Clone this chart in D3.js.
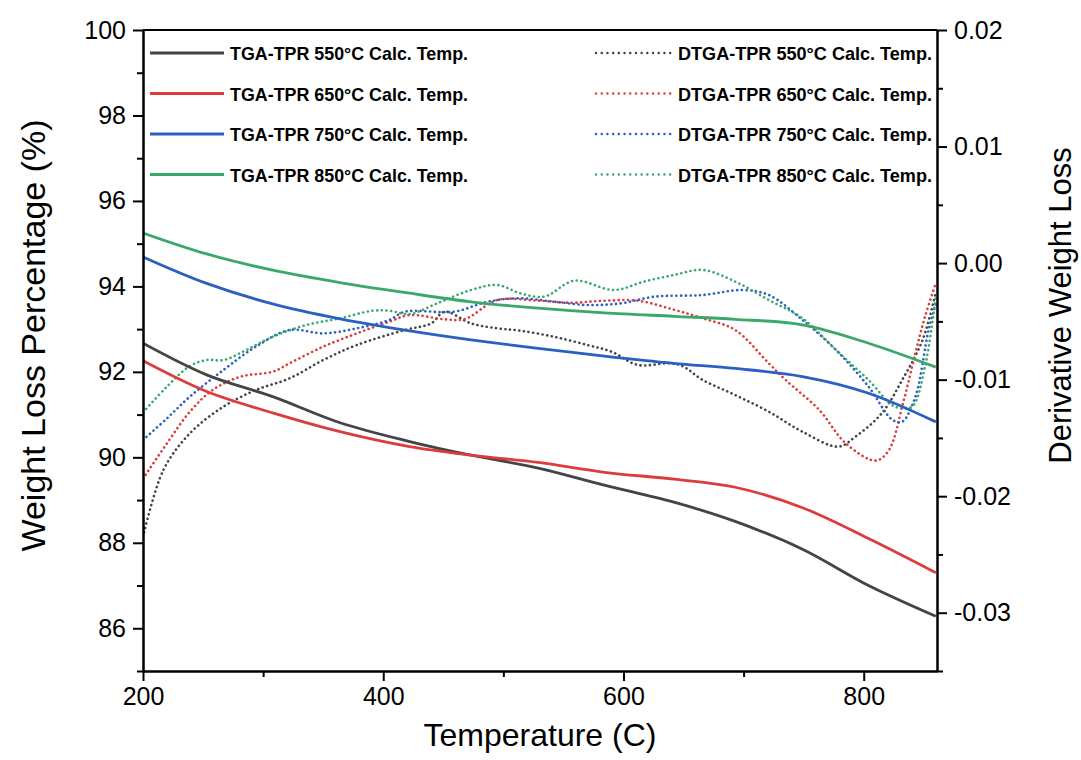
<!DOCTYPE html>
<html>
<head>
<meta charset="utf-8">
<script src="https://cdn.jsdelivr.net/npm/d3@7"></script>
<style>
  html, body { margin: 0; padding: 0; background: #fff; }
  svg { display: block; }
  text { font-family: "Liberation Sans", Arial, sans-serif; fill: #000; }
</style>
</head>
<body>
<svg id="chart" width="1081" height="760"></svg>
<script>
// ---------- data ----------
const tgaTemps = [200, 253, 308, 364, 422, 473, 529, 584, 642, 693, 749, 804, 860];
const tga550 = [92.67, 91.93, 91.42, 90.81, 90.37, 90.05, 89.75, 89.35, 88.95, 88.5, 87.85, 87.0, 86.28];
const tga650 = [92.26, 91.54, 91.04, 90.60, 90.25, 90.05, 89.88, 89.65, 89.49, 89.3, 88.82, 88.1, 87.3];
const tga750 = [94.69, 94.07, 93.59, 93.24, 92.96, 92.75, 92.55, 92.37, 92.2, 92.08, 91.89, 91.5, 90.83];
const tga850 = [95.25, 94.76, 94.38, 94.09, 93.84, 93.64, 93.49, 93.38, 93.3, 93.23, 93.1, 92.67, 92.11];

const dtga550T = [200, 217, 239, 267, 294, 322, 350, 378, 418, 440, 451, 473, 495, 514, 542, 570, 590, 612, 638, 649, 666, 693, 721, 749, 779, 793, 815, 832, 849, 860];
const dtga550 = [-0.0235, -0.01775, -0.01461, -0.01232, -0.01089, -0.00989, -0.00832, -0.00703, -0.00574, -0.00517, -0.00417, -0.00517, -0.0056, -0.0058, -0.00632, -0.00703, -0.0076, -0.00874, -0.0086, -0.00883, -0.01003, -0.01132, -0.01275, -0.01447, -0.01575, -0.0149, -0.01289, -0.01003, -0.0066, -0.0025];

const dtga650T = [200, 220, 239, 258, 281, 308, 322, 350, 378, 405, 422, 451, 468, 495, 529, 556, 584, 612, 642, 666, 693, 721, 735, 763, 785, 810, 821, 832, 843, 851, 860];
const dtga650 = [-0.0185, -0.01546, -0.01275, -0.01089, -0.00975, -0.00932, -0.0086, -0.00717, -0.00603, -0.00503, -0.00446, -0.00482, -0.0048, -0.00317, -0.00323, -0.0034, -0.00323, -0.00323, -0.004, -0.00474, -0.00574, -0.0086, -0.01003, -0.0126, -0.01546, -0.01695, -0.01604, -0.01232, -0.00774, -0.0046, -0.00173];

const dtga750T = [200, 220, 239, 267, 294, 322, 350, 378, 405, 418, 459, 487, 514, 542, 570, 598, 626, 666, 699, 721, 749, 777, 804, 824, 832, 843, 854, 860];
const dtga750 = [-0.01518, -0.01332, -0.01146, -0.00917, -0.00717, -0.00574, -0.00603, -0.0056, -0.00488, -0.00417, -0.00417, -0.00331, -0.00302, -0.00331, -0.0036, -0.00345, -0.00288, -0.00274, -0.00231, -0.00274, -0.00488, -0.00746, -0.0106, -0.01346, -0.01361, -0.01146, -0.00574, -0.0035];

const dtga850T = [200, 220, 239, 253, 267, 286, 308, 336, 364, 391, 405, 422, 445, 473, 495, 514, 534, 559, 592, 617, 642, 666, 693, 721, 749, 777, 804, 826, 840, 851, 860];
const dtga850 = [-0.0128, -0.0106, -0.00883, -0.00832, -0.00832, -0.00746, -0.00632, -0.00531, -0.00474, -0.00409, -0.00409, -0.00437, -0.00345, -0.00231, -0.00188, -0.00259, -0.00288, -0.00151, -0.00231, -0.00159, -0.00102, -0.00059, -0.00159, -0.00317, -0.00474, -0.00746, -0.01003, -0.01232, -0.01232, -0.00889, -0.0028];

const seriesNames = ["550", "650", "750", "850"];
const seriesColors = ["#444444", "#dd3c3c", "#2b5fc2", "#3aa86b"];
const tgaLabels = seriesNames.map(n => `TGA-TPR ${n}\u00B0C Calc. Temp.`);
const dtgaLabels = seriesNames.map(n => `DTGA-TPR ${n}\u00B0C Calc. Temp.`);

const xTicks = [200, 400, 600, 800];
const xMinor = [300, 500, 700];
const yLeftTicks = [86, 88, 90, 92, 94, 96, 98, 100];
const yLeftMinor = [85, 87, 89, 91, 93, 95, 97, 99];
const yRightTicks = [-0.03, -0.02, -0.01, 0.00, 0.01, 0.02];
const yRightMinor = [-0.035, -0.025, -0.015, -0.005, 0.005, 0.015];

// ---------- layout ----------
const svg = d3.select("#chart");
const L = 143, T = 30, R = 937, B = 671;

const x = d3.scaleLinear().domain([200, 861]).range([L, R]);
const yL = d3.scaleLinear().domain([85, 100]).range([B, T]);
const yR = d3.scaleLinear().domain([-0.035, 0.02]).range([B, T]);

svg.append("defs").append("clipPath").attr("id", "plotclip")
  .append("rect").attr("x", L).attr("y", T).attr("width", R - L).attr("height", B - T);

const plot = svg.append("g").attr("clip-path", "url(#plotclip)");

const curve = d3.curveCatmullRom.alpha(0.5);
const tgaSeries = [tga550, tga650, tga750, tga850];
const dtgaSeries = [[dtga550T, dtga550], [dtga650T, dtga650], [dtga750T, dtga750], [dtga850T, dtga850]];

const tgaLine = d3.line().x(d => x(d[0])).y(d => yL(d[1])).curve(curve);
const dtgaLine = d3.line().x(d => x(d[0])).y(d => yR(d[1])).curve(curve);

dtgaSeries.forEach((s, i) => {
  const pts = s[0].map((t, k) => [t, s[1][k]]);
  plot.append("path").attr("d", dtgaLine(pts))
    .attr("fill", "none").attr("stroke", seriesColors[i])
    .attr("stroke-width", 2.6).attr("stroke-linecap", "round")
    .attr("stroke-dasharray", "0.1,4.6");
});
tgaSeries.forEach((s, i) => {
  const pts = tgaTemps.map((t, k) => [t, s[k]]);
  plot.append("path").attr("d", tgaLine(pts))
    .attr("fill", "none").attr("stroke", seriesColors[i])
    .attr("stroke-width", 2.8);
});

// ---------- axes ----------
const tickFont = "25px";
const axisStyle = g => {
  g.selectAll(".domain").attr("stroke", "#000").attr("stroke-width", 2);
  g.selectAll(".tick line").attr("stroke", "#000").attr("stroke-width", 2);
  g.selectAll(".tick text").style("font-size", tickFont).style("font-family", "'Liberation Sans', Arial, sans-serif");
};
const rightFmt = d => d3.format(".2f")(d).replace("\u2212", "-");

svg.append("g").attr("transform", `translate(0,${B})`)
  .call(d3.axisBottom(x).tickValues(xTicks).tickSize(10).tickPadding(6).tickFormat(d3.format("d")).tickSizeOuter(0))
  .call(axisStyle);
svg.append("g").attr("transform", `translate(0,${B})`)
  .call(d3.axisBottom(x).tickValues(xMinor).tickSize(6).tickFormat("").tickSizeOuter(0))
  .call(axisStyle);
svg.append("line").attr("x1", L).attr("x2", R).attr("y1", T).attr("y2", T)
  .attr("stroke", "#000").attr("stroke-width", 2);

svg.append("g").attr("transform", `translate(${L},0)`)
  .call(d3.axisLeft(yL).tickValues(yLeftTicks).tickSize(10).tickPadding(7).tickFormat(d3.format("d")).tickSizeOuter(0))
  .call(axisStyle);
svg.append("g").attr("transform", `translate(${L},0)`)
  .call(d3.axisLeft(yL).tickValues(yLeftMinor).tickSize(6).tickFormat("").tickSizeOuter(0))
  .call(axisStyle);

svg.append("g").attr("transform", `translate(${R},0)`)
  .call(d3.axisRight(yR).tickValues(yRightTicks).tickSize(10).tickPadding(7).tickFormat(rightFmt).tickSizeOuter(0))
  .call(axisStyle);
svg.append("g").attr("transform", `translate(${R},0)`)
  .call(d3.axisRight(yR).tickValues(yRightMinor).tickSize(6).tickFormat("").tickSizeOuter(0))
  .call(axisStyle);

// ---------- axis titles ----------
svg.append("text").attr("x", (L + R) / 2).attr("y", 746).attr("text-anchor", "middle")
  .style("font-size", "32px").text("Temperature (C)");
svg.append("text").attr("transform", `translate(45,${(T + B) / 2 - 15}) rotate(-90)`)
  .attr("text-anchor", "middle").style("font-size", "34px").text("Weight Loss Percentage (%)");
svg.append("text").attr("transform", `translate(1071,${(T + B) / 2 - 45}) rotate(-90)`)
  .attr("text-anchor", "middle").style("font-size", "31px").text("Derivative Weight Loss");

// ---------- legend ----------
const rowsY = [53, 93.5, 134, 174.5];
seriesNames.forEach((n, i) => {
  const yy = rowsY[i];
  svg.append("line").attr("x1", 150).attr("x2", 224).attr("y1", yy).attr("y2", yy)
    .attr("stroke", seriesColors[i]).attr("stroke-width", 2.8);
  svg.append("text").attr("x", 230).attr("y", yy + 7)
    .style("font-size", "19px").style("font-weight", "bold")
    .attr("textLength", 238).attr("lengthAdjust", "spacingAndGlyphs")
    .text(tgaLabels[i]);

  svg.append("line").attr("x1", 596).attr("x2", 674).attr("y1", yy).attr("y2", yy)
    .attr("stroke", seriesColors[i]).attr("stroke-width", 2.4)
    .attr("stroke-linecap", "round").attr("stroke-dasharray", "0.1,5.6");
  svg.append("text").attr("x", 678).attr("y", yy + 7)
    .style("font-size", "19px").style("font-weight", "bold")
    .attr("textLength", 254).attr("lengthAdjust", "spacingAndGlyphs")
    .text(dtgaLabels[i]);
});
</script>
</body>
</html>
